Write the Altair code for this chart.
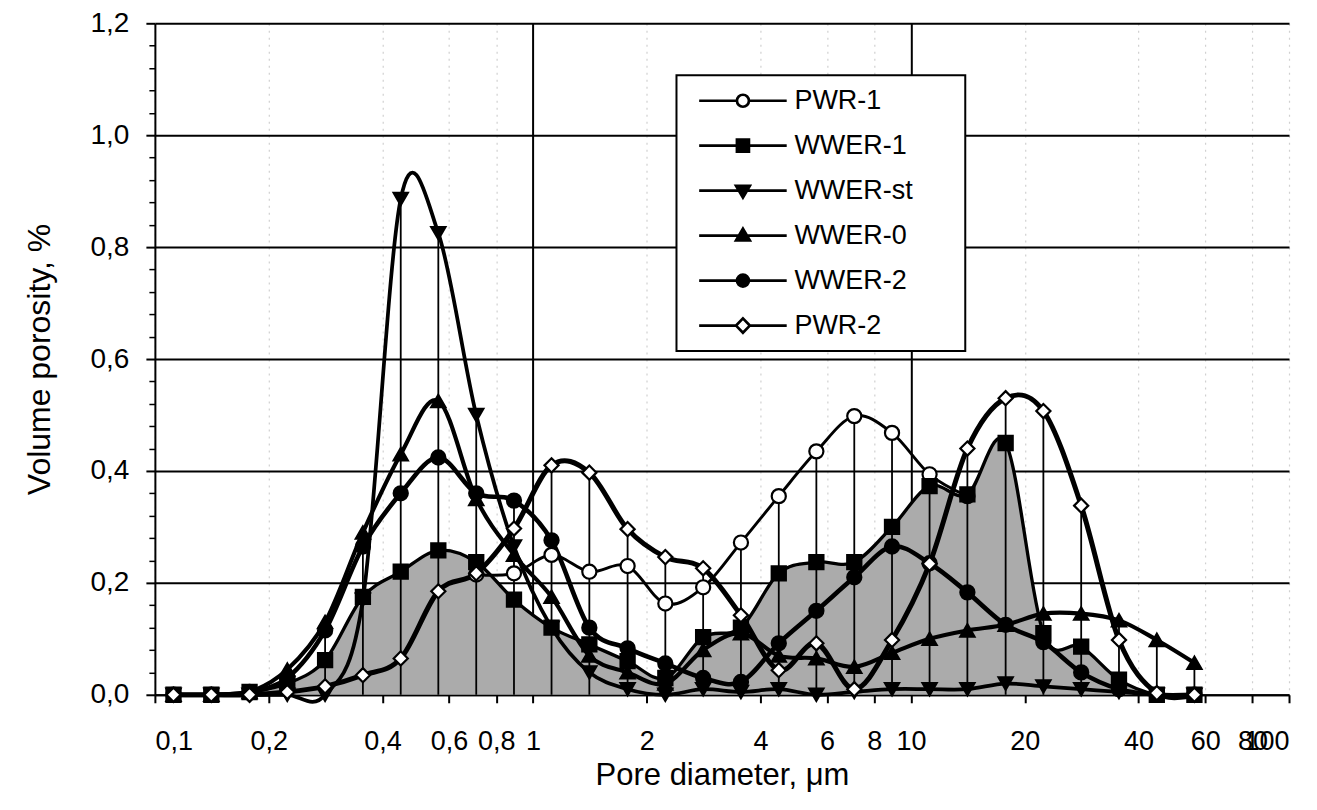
import altair as alt
import pandas as pd

# ---------------- data ----------------
diameter = [0.112, 0.141, 0.178, 0.224, 0.282, 0.355, 0.447, 0.562, 0.708, 0.891,
            1.12, 1.41, 1.78, 2.24, 2.82, 3.55, 4.47, 5.62, 7.08, 8.91,
            11.2, 14.1, 17.8, 22.4, 28.2, 35.5, 44.7, 56.2]

pwr_1 = [None, None, None, None, None, None, None, None, 0.215, 0.217,
         0.25, 0.22, 0.23, 0.163, 0.192, 0.272, 0.355, 0.435, 0.498, 0.468,
         0.394, 0.355, None, None, None, None, None, None]
wwer_1 = [0, 0, 0.005, 0.02, 0.062, 0.175, 0.22, 0.258, 0.237, 0.17,
          0.12, 0.09, 0.06, 0.03, 0.103, 0.12, 0.217, 0.237, 0.237, 0.30,
          0.373, 0.358, 0.45, 0.11, 0.086, 0.027, 0, 0]
wwer_st = [0, 0, 0, 0, 0, 0.17, 0.886, 0.825, 0.50, 0.265,
           0.12, 0.04, 0.01, 0.0, 0.01, 0.005, 0.01, 0.0, 0.005, 0.01,
           0.01, 0.01, 0.02, 0.015, 0.01, 0.005, 0, 0]
wwer_0 = [0, 0, 0.005, 0.045, 0.13, 0.29, 0.43, 0.525, 0.35, 0.25,
          0.175, 0.07, 0.04, 0.02, 0.08, 0.11, 0.07, 0.065, 0.05, 0.075,
          0.10, 0.115, 0.125, 0.145, 0.145, 0.133, 0.098, 0.057]
wwer_2 = [0, 0, 0.005, 0.03, 0.115, 0.265, 0.36, 0.424, 0.36, 0.347,
          0.276, 0.12, 0.083, 0.056, 0.03, 0.023, 0.092, 0.15, 0.21, 0.265,
          0.235, 0.183, 0.125, 0.094, 0.04, 0.01, 0, 0]
pwr_2 = [0, 0, 0, 0.005, 0.015, 0.035, 0.065, 0.185, 0.217, 0.297,
         0.41, 0.397, 0.296, 0.246, 0.226, 0.142, 0.044, 0.092, 0.01, 0.098,
         0.234, 0.44, 0.53, 0.507, 0.338, 0.098, 0.003, 0]

series_names = ["PWR-1", "WWER-1", "WWER-st", "WWER-0", "WWER-2", "PWR-2"]
series_values = [pwr_1, wwer_1, wwer_st, wwer_0, wwer_2, pwr_2]

x_tick_values = [0.1, 0.2, 0.4, 0.6, 0.8, 1, 2, 4, 6, 8, 10, 20, 40, 60, 80, 100]
y_tick_values = [round(i * 0.04, 2) for i in range(31)]

# ---------------- styling ----------------
FONT = "Liberation Sans"
point_shapes = ["circle", "square", "triangle-down", "triangle-up", "circle", "diamond"]
point_fills = ["white", "black", "black", "black", "black", "white"]
line_widths = [2.9, 5, 2.9, 2.9, 2.9, 2.9]
legend_paths = [
    "M-7.3,0H-1M1,0H7.3M1,0A1,1,0,1,1,-1,0A1,1,0,1,1,1,0Z",
    "M-7.3,0H7.3M-1,-1H1V1H-1Z",
    "M-7.3,0H7.3M-1.15,-0.8H1.15L0,1.15Z",
    "M-7.3,0H7.3M0,-1.15L1.15,0.8H-1.15Z",
    "M-7.3,0H7.3M1,0A1,1,0,1,1,-1,0A1,1,0,1,1,1,0Z",
    "M-7.3,0H-1.15M1.15,0H7.3M0,-1.2L1.15,0L0,1.2L-1.15,0Z",
]

rows = []
for si, (name, vals) in enumerate(zip(series_names, series_values)):
    for d, v in zip(diameter, vals):
        if v is not None:
            rows.append({"series": name, "s_order": si, "d": d, "v": v})
df = pd.DataFrame(rows)

major_x = "datum.value == 1 || datum.value == 10"
major_y = "abs(datum.value * 5 - round(datum.value * 5)) < 0.001"

x_enc = alt.X(
    "d:Q",
    scale=alt.Scale(type="log", domain=[0.1, 100]),
    axis=alt.Axis(
        values=x_tick_values,
        labelExpr="replace(toString(datum.value), '.', ',')",
        labelOverlap=False,
        labelFont=FONT, labelFontSize=27, labelColor="black", labelPadding=26,
        tickSize=8, tickColor="black", tickWidth=2,
        domainColor="black", domainWidth=2,
        grid=True,
        gridColor={"condition": {"test": major_x, "value": "black"}, "value": "#d0d0d0"},
        gridWidth={"condition": {"test": major_x, "value": 2}, "value": 1.2},
        gridDash={"condition": {"test": major_x, "value": []}, "value": [2, 5]},
        title="Pore diameter, μm",
        titleFont=FONT, titleFontSize=31, titleFontWeight="normal", titleColor="black",
        titlePadding=6,
    ),
)
y_enc = alt.Y(
    "v:Q",
    scale=alt.Scale(domain=[0, 1.2]),
    axis=alt.Axis(
        values=y_tick_values,
        labelExpr=major_y + " ? replace(format(datum.value, '.1f'), '.', ',') : ''",
        labelOverlap=False,
        labelFont=FONT, labelFontSize=28, labelColor="black", labelPadding=17,
        tickSize={"condition": {"test": major_y, "value": 9}, "value": 6},
        tickColor="black",
        tickWidth={"condition": {"test": major_y, "value": 2}, "value": 1.5},
        domainColor="black", domainWidth=2,
        grid=True, gridColor="black", gridWidth=2,
        gridOpacity={"condition": {"test": major_y, "value": 1}, "value": 0},
        title="Volume porosity, %",
        titleFont=FONT, titleFontSize=32, titleFontWeight="normal", titleColor="black",
        titlePadding=34,
    ),
)

base = alt.Chart(df)

area = base.transform_filter(alt.datum.series == "WWER-1").mark_area(
    interpolate="cardinal", color="#ababab"
).encode(x=x_enc, y=y_enc)

drops = base.transform_aggregate(v="max(v)", groupby=["d"]).mark_rule(
    color="black", strokeWidth=1.8
).encode(x=x_enc, y=y_enc, y2=alt.datum(0))

lines = base.mark_line(interpolate="cardinal", color="black").encode(
    x=x_enc, y=y_enc,
    detail="series:N",
    strokeWidth=alt.StrokeWidth(
        "series:N", scale=alt.Scale(domain=series_names, range=line_widths), legend=None
    ),
)

points = base.mark_point(filled=True, opacity=1, stroke="black", strokeWidth=2.2, size=200).encode(
    x=x_enc, y=y_enc,
    shape=alt.Shape("series:N", scale=alt.Scale(domain=series_names, range=point_shapes), legend=None),
    fill=alt.Fill("series:N", scale=alt.Scale(domain=series_names, range=point_fills), legend=None),
    order=alt.Order("s_order:Q"),
)

BLANK = "\u2800"  # blank braille cell: invisible, but not trimmed, so it widens the legend box
legend_def = alt.Legend(
    title=None, orient="none", legendX=522, legendY=52,
    fillColor="white", strokeColor="black", padding=12, rowPadding=17,
    labelFont=FONT, labelFontSize=27, labelColor="black", labelLimit=400,
    labelExpr="datum.label + '" + BLANK * 2 + "'",
    symbolSize=144, symbolStrokeWidth=2.7, symbolStrokeColor="black", symbolOpacity=1,
    symbolOffset=41, labelOffset=38,
)

legend_layer = base.mark_point(filled=True, opacity=0, strokeWidth=2.7).encode(
    x=x_enc, y=y_enc,
    shape=alt.Shape("series:N", scale=alt.Scale(domain=series_names, range=legend_paths), legend=legend_def),
    fill=alt.Fill("series:N", scale=alt.Scale(domain=series_names, range=point_fills), legend=legend_def),
    stroke=alt.Stroke("series:N", scale=alt.Scale(domain=series_names, range=["black"] * 6), legend=legend_def),
)

chart = alt.layer(area, drops, lines, points, legend_layer).resolve_scale(
    shape="independent", fill="independent", stroke="independent"
).properties(
    width=1135, height=672,
    autosize=alt.AutoSizeParams(type="none"),
    padding={"left": 147, "top": 15, "right": 20, "bottom": 100},
    background="white",
).configure_view(stroke=None).configure_legend(strokeWidth=2)

chart.save("out.html", embed_options={"renderer": "svg", "actions": False})
